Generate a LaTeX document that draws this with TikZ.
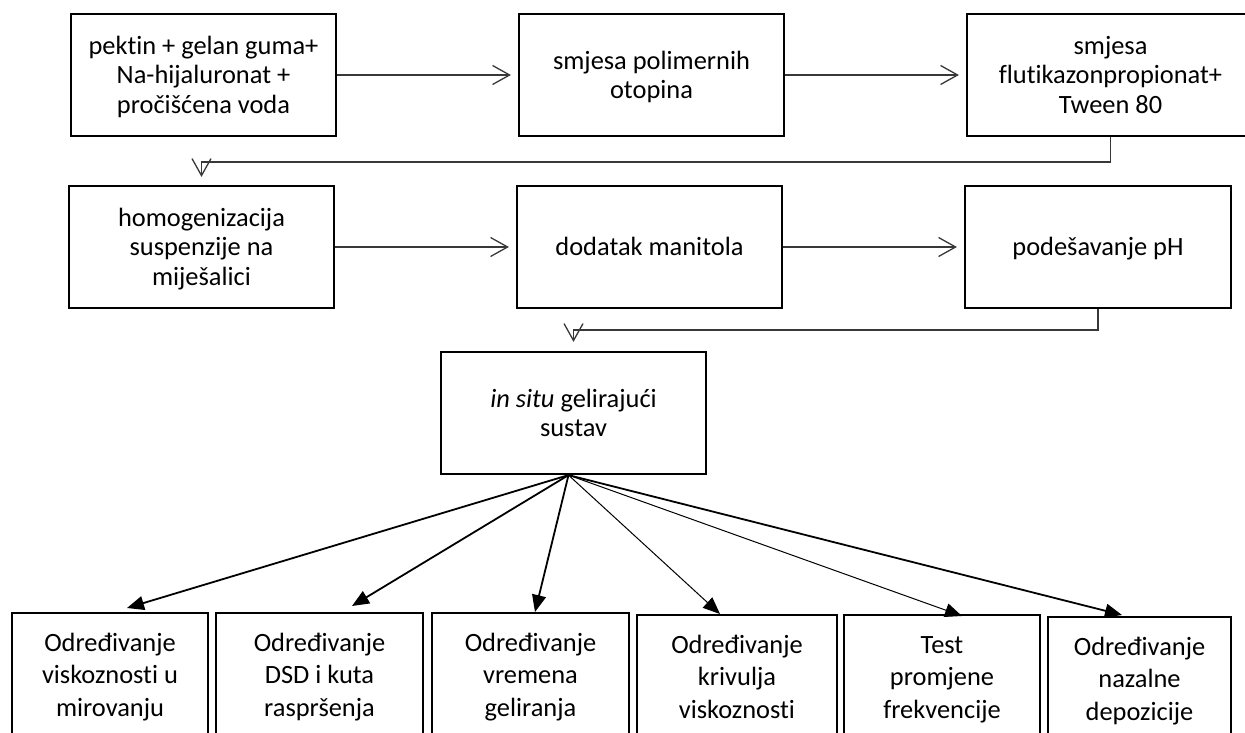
\documentclass[tikz,border=0pt]{standalone}
\usepackage{fontspec}
\setmainfont{Carlito}[Ligatures={CommonOff,ContextualOff}]
\usetikzlibrary{arrows.meta,calc}
\newcommand\tst{\rule{0pt}{24pt}}
\newcommand\bst{\rule[-6.4pt]{0pt}{0pt}}
\begin{document}
\begin{tikzpicture}[x=1pt,y=-1pt,
  box/.style={draw=black, line width=2.2pt, inner sep=0pt, align=center,
    font=\fontsize{26.4}{29.5}\selectfont, minimum height=122pt},
  testbox/.style={draw=black, line width=2.2pt, inner sep=0pt, align=center,
    font=\fontsize{26.4}{32.5}\selectfont, minimum height=128pt},
  flow/.style={draw=black!78, line width=1.3pt,
    -{Straight Barb[length=17pt,width=19pt,line width=1.3pt]}},
  fanthick/.style={draw=black, line width=1.8pt, -{Triangle[length=17pt,width=14pt]}},
  fanthin/.style={draw=black, line width=1.0pt, -{Triangle[length=17pt,width=14pt]}}
]
\useasboundingbox (0,0) rectangle (1245,733);
\clip (0,0) rectangle (1245,733);
\fill[white] (0,0) rectangle (1245,733);

% row 1
\node[box, minimum width=265pt] (b1) at (203.5,75) {\tst pektin + gelan guma+\\Na-hijaluronat +\\pročišćena voda\bst};
\node[box, minimum width=265pt] (b2) at (651.5,75) {\tst smjesa polimernih\\otopina\bst};
\node[box, minimum width=287pt] (b3) at (1110.5,75) {\tst smjesa\\flutikazonpropionat+\\Tween 80\bst};
% row 2
\node[box, minimum width=265pt] (b4) at (201.5,247) {\tst homogenizacija\\suspenzije na\\miješalici\bst};
\node[box, minimum width=265pt] (b5) at (649.5,247) {\tst dodatak manitola\bst};
\node[box, minimum width=266pt] (b6) at (1098,247) {\tst podešavanje pH\bst};
% row 3
\node[box, minimum width=265pt] (b7) at (573.5,413) {\tst\textit{in situ} gelirajući\\sustav\bst};
% tests
\node[testbox, minimum width=196pt] (c1) at (110,677) {Određivanje\strut\\viskoznosti u\strut\\mirovanju\strut};
\node[testbox, minimum width=207pt] (c2) at (319.5,677) {Određivanje\strut\\DSD i kuta\strut\\raspršenja\strut};
\node[testbox, minimum width=197pt] (c3) at (530.5,677) {Određivanje\strut\\vremena\strut\\geliranja\strut};
\node[testbox, minimum width=200pt] (c4) at (737,679) {Određivanje\strut\\krivulja\strut\\viskoznosti\strut};
\node[testbox, minimum width=196pt] (c5) at (942,679) {Test\strut\\promjene\strut\\frekvencije\strut};
\node[testbox, minimum width=183pt] (c6) at (1139.5,681) {Određivanje\strut\\nazalne\strut\\depozicije\strut};

% horizontal flows
\draw[flow, shorten >=7pt] (b1.east) -- (b2.west);
\draw[flow, shorten >=7pt] (b2.east) -- (b3.west |- b2.east);
\draw[flow, shorten >=7pt] (b4.east) -- (b5.west);
\draw[flow, shorten >=7pt] (b5.east) -- (b6.west);

% elbow flows
\coordinate (e1) at ($(b3.south)+(0,25)$);
\coordinate (e2) at ($(b6.south)+(0,21)$);
\draw[flow, shorten >=8pt] (b3.south) -- (e1) -- (e1 -| b4.north) -- (b4.north);
\draw[flow, shorten >=9pt] (b6.south) -- (e2) -- (e2 -| b7.north) -- (b7.north);

% fan
\coordinate (fan) at ($(b7.south)+(-5,0)$);
\coordinate (t1) at (127,608);
\coordinate (t2) at (352,606);
\coordinate (t3) at (535,612);
\coordinate (t4) at (720,614);
\coordinate (t5) at (962,616);
\coordinate (t6) at (1122,615);
\draw[fanthick] (fan) -- (t1);
\draw[fanthick] (fan) -- (t2);
\draw[fanthick] (fan) -- (t3);
\draw[fanthin] (fan) -- (t4);
\draw[fanthin] (fan) -- (t5);
\draw[fanthick] (fan) -- (t6);
\end{tikzpicture}
\end{document}
